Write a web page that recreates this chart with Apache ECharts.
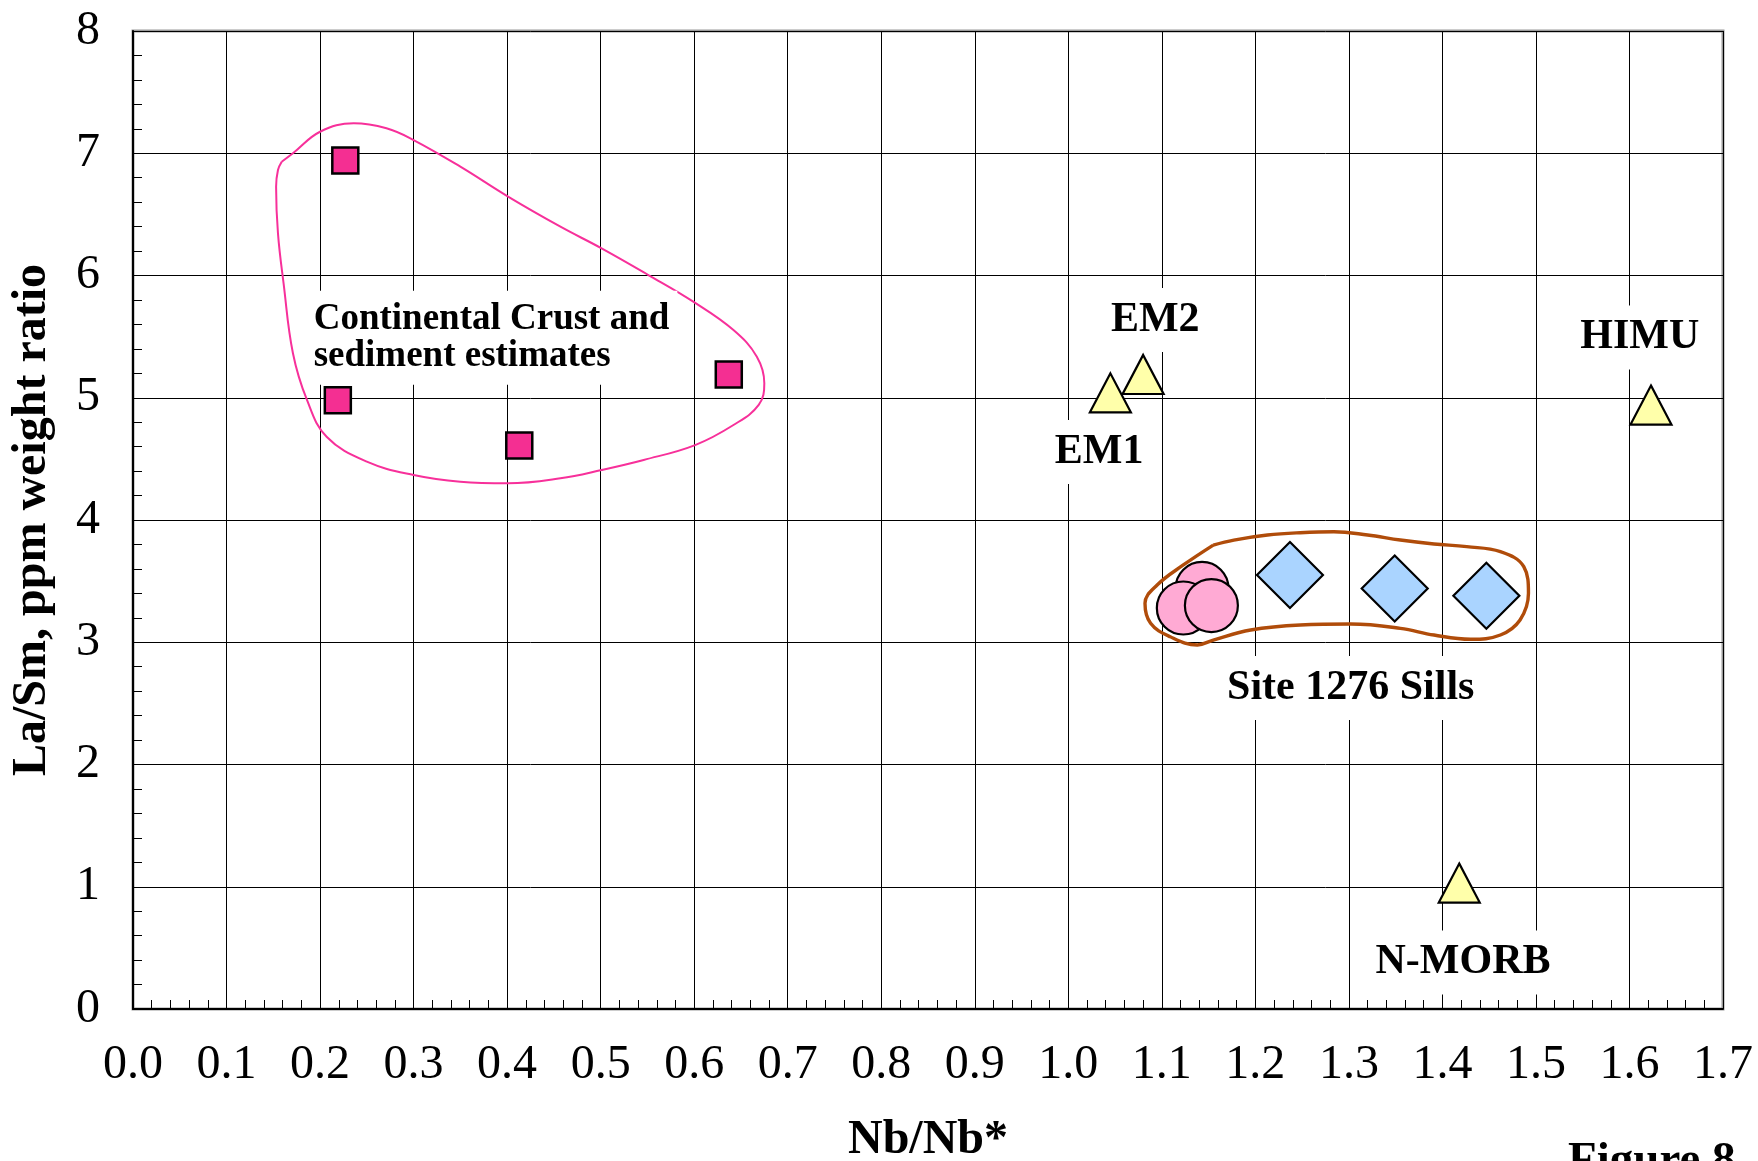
<!DOCTYPE html>
<html>
<head>
<meta charset="utf-8">
<script src="https://cdn.jsdelivr.net/npm/echarts@6/dist/echarts.min.js"></script>
<style>
html,body{margin:0;padding:0;background:#fff;}
#chart{width:1758px;height:1161px;}
</style>
</head>
<body>
<div id="chart"></div>
<script>
// ---- Data ----
const xTickLabels = ['0.0','0.1','0.2','0.3','0.4','0.5','0.6','0.7','0.8','0.9','1.0','1.1','1.2','1.3','1.4','1.5','1.6','1.7'];
const yTickLabels = ['0','1','2','3','4','5','6','7','8'];

// Continental crust and sediment estimates (squares)
const crustX = [0.227, 0.219, 0.413, 0.637];
const crustY = [6.94, 4.98, 4.61, 5.19];

// Mantle reservoirs (triangles)
const reservoirNames = ['EM1', 'EM2', 'HIMU', 'N-MORB'];
const reservoirX = [1.045, 1.080, 1.623, 1.418];
const reservoirY = [5.04, 5.19, 4.94, 1.03];

// Site 1276 sills: circles and diamonds
const sillCircleX = [1.143, 1.123, 1.153];
const sillCircleY = [3.44, 3.28, 3.30];
const sillDiamondX = [1.237, 1.349, 1.447];
const sillDiamondY = [3.55, 3.44, 3.38];

// Hand-drawn outline around crust estimates (data units)
const crustOutlineX = [0.159,0.171,0.200,0.236,0.271,0.300,0.350,0.401,0.457,0.501,0.551,0.599,0.642,0.667,0.675,0.669,0.642,0.601,0.546,0.501,0.457,0.401,0.350,0.300,0.250,0.207,0.186,0.171,0.161,0.155,0.153,0.155,0.159];
const crustOutlineY = [6.931,7.000,7.176,7.245,7.204,7.108,6.890,6.645,6.399,6.222,6.004,5.786,5.554,5.336,5.118,4.941,4.777,4.613,4.491,4.409,4.341,4.300,4.313,4.368,4.477,4.681,4.982,5.364,5.936,6.345,6.726,6.863,6.931];

// Hand-drawn outline around Site 1276 sills (data units)
const sillOutlineX = [1.155,1.123,1.095,1.082,1.088,1.109,1.138,1.155,1.195,1.248,1.302,1.355,1.391,1.430,1.462,1.483,1.492,1.487,1.462,1.426,1.391,1.355,1.320,1.284,1.248,1.213,1.177,1.155];
const sillOutlineY = [3.795,3.632,3.468,3.319,3.155,3.045,2.978,3.018,3.100,3.141,3.149,3.114,3.059,3.024,3.059,3.182,3.400,3.618,3.741,3.782,3.804,3.836,3.877,3.904,3.896,3.877,3.836,3.795];

// Text annotations (anchor in data units)
const annoTexts = ['EM2', 'EM1', 'HIMU', 'N-MORB', 'Site 1276 Sills'];
const annoX = [1.093, 1.033, 1.611, 1.422, 1.302];
const annoY = [5.636, 4.556, 5.493, 0.380, 2.626];
const crustLabelText = 'Continental Crust and\nsediment estimates';
const crustLabelX = 0.1846;
const crustLabelY = 5.49;

// ---- Build chart ----
const zip = (xs, ys) => xs.map((x, i) => [x, ys[i]]);
const FONT = 'Liberation Serif, Times New Roman, serif';

const chart = echarts.init(document.getElementById('chart'), null, {renderer: 'canvas'});

const option = {
  animation: false,
  backgroundColor: '#ffffff',
  grid: {left: 133, right: 35, top: 31, bottom: 152, show: true, borderColor: '#9a9a9a', borderWidth: 3,
    backgroundColor: 'transparent', containLabel: false, outerBoundsMode: 'none'},
  xAxis: {
    type: 'value', min: 0, max: 1.7, interval: 0.1,
    name: 'Nb/Nb*', nameLocation: 'middle', nameGap: 108,
    nameTextStyle: {fontFamily: FONT, fontWeight: 'bold', fontSize: 48, color: '#000'},
    axisLine: {show: true, onZero: false, lineStyle: {color: '#000', width: 2}},
    axisTick: {show: true, inside: true, length: 9, lineStyle: {color: '#000'}},
    minorTick: {show: true, splitNumber: 5, length: 9, lineStyle: {color: '#000', width: 1}},
    splitLine: {show: true, lineStyle: {color: '#000', width: 1}},
    axisLabel: {fontFamily: FONT, fontSize: 48, color: '#000', margin: 32,
      formatter: (v) => xTickLabels[Math.round(v * 10)]}
  },
  yAxis: {
    type: 'value', min: 0, max: 8, interval: 1,
    name: 'La/Sm, ppm weight ratio', nameLocation: 'middle', nameGap: 76, nameRotate: 90,
    nameTextStyle: {fontFamily: FONT, fontWeight: 'bold', fontSize: 48, color: '#000'},
    axisLine: {show: true, onZero: false, lineStyle: {color: '#000', width: 2}},
    axisTick: {show: true, inside: true, length: 9, lineStyle: {color: '#000'}},
    minorTick: {show: true, splitNumber: 5, length: 9, lineStyle: {color: '#000', width: 1}},
    splitLine: {show: true, lineStyle: {color: '#000', width: 1}},
    axisLabel: {fontFamily: FONT, fontSize: 48, color: '#000', margin: 33,
      formatter: (v) => yTickLabels[Math.round(v)]}
  },
  series: [
    {
      type: 'line', name: 'crustOutline', data: zip(crustOutlineX, crustOutlineY),
      smooth: 0.4, symbol: 'none', z: 3,
      lineStyle: {color: '#f7309a', width: 2}
    },
    {
      type: 'line', name: 'sillOutline', data: zip(sillOutlineX, sillOutlineY),
      smooth: 0.4, symbol: 'none', z: 3,
      lineStyle: {color: '#b04c0a', width: 3.4}
    },
    {
      type: 'scatter', name: 'crust', data: zip(crustX, crustY),
      symbol: 'rect', symbolSize: 26, z: 4,
      itemStyle: {color: '#f42f92', borderColor: '#000', borderWidth: 2.5, opacity: 1}
    },
    {
      type: 'scatter', name: 'reservoirs', data: zip(reservoirX, reservoirY),
      symbol: 'triangle', symbolSize: [41, 39], z: 4,
      itemStyle: {color: '#ffffaa', borderColor: '#000', borderWidth: 2.2, opacity: 1}
    },
    {
      type: 'scatter', name: 'sillCircles', data: zip(sillCircleX, sillCircleY),
      symbol: 'circle', symbolSize: 53, z: 4,
      itemStyle: {color: '#ffaad4', borderColor: '#000', borderWidth: 2.2, opacity: 1}
    },
    {
      type: 'scatter', name: 'sillDiamonds', data: zip(sillDiamondX, sillDiamondY),
      symbol: 'diamond', symbolSize: [66, 66], z: 4,
      itemStyle: {color: '#aad4ff', borderColor: '#000', borderWidth: 2.2, opacity: 1}
    },
    {
      type: 'scatter', name: 'annotations', z: 5,
      data: annoTexts.map((t, i) => ({name: t, value: [annoX[i], annoY[i]]})),
      symbol: 'rect', symbolSize: 1,
      itemStyle: {color: 'rgba(0,0,0,0)', opacity: 1},
      label: {show: true, position: 'inside', formatter: '{b}',
        fontFamily: FONT, fontWeight: 'bold', fontSize: 42, color: '#000', opacity: 1,
        backgroundColor: '#fff', padding: [6, 8, 16, 8]}
    },
    {
      type: 'scatter', name: 'crustLabel', z: 5,
      data: [{name: crustLabelText, value: [crustLabelX, crustLabelY]}],
      symbol: 'rect', symbolSize: 1,
      itemStyle: {color: 'rgba(0,0,0,0)', opacity: 1},
      label: {show: true, position: 'inside', formatter: '{b}', align: 'left',
        fontFamily: FONT, fontWeight: 'bold', fontSize: 37, lineHeight: 37, color: '#000', opacity: 1,
        backgroundColor: '#fff', padding: [6, 8, 14, 8]}
    }
  ],
  graphic: [
    {type: 'text', left: 1568, top: 1138, z: 10,
      style: {text: 'Figure 8', font: 'bold 47px ' + FONT, fill: '#000'}}
  ]
};
chart.setOption(option);
</script>
</body>
</html>
